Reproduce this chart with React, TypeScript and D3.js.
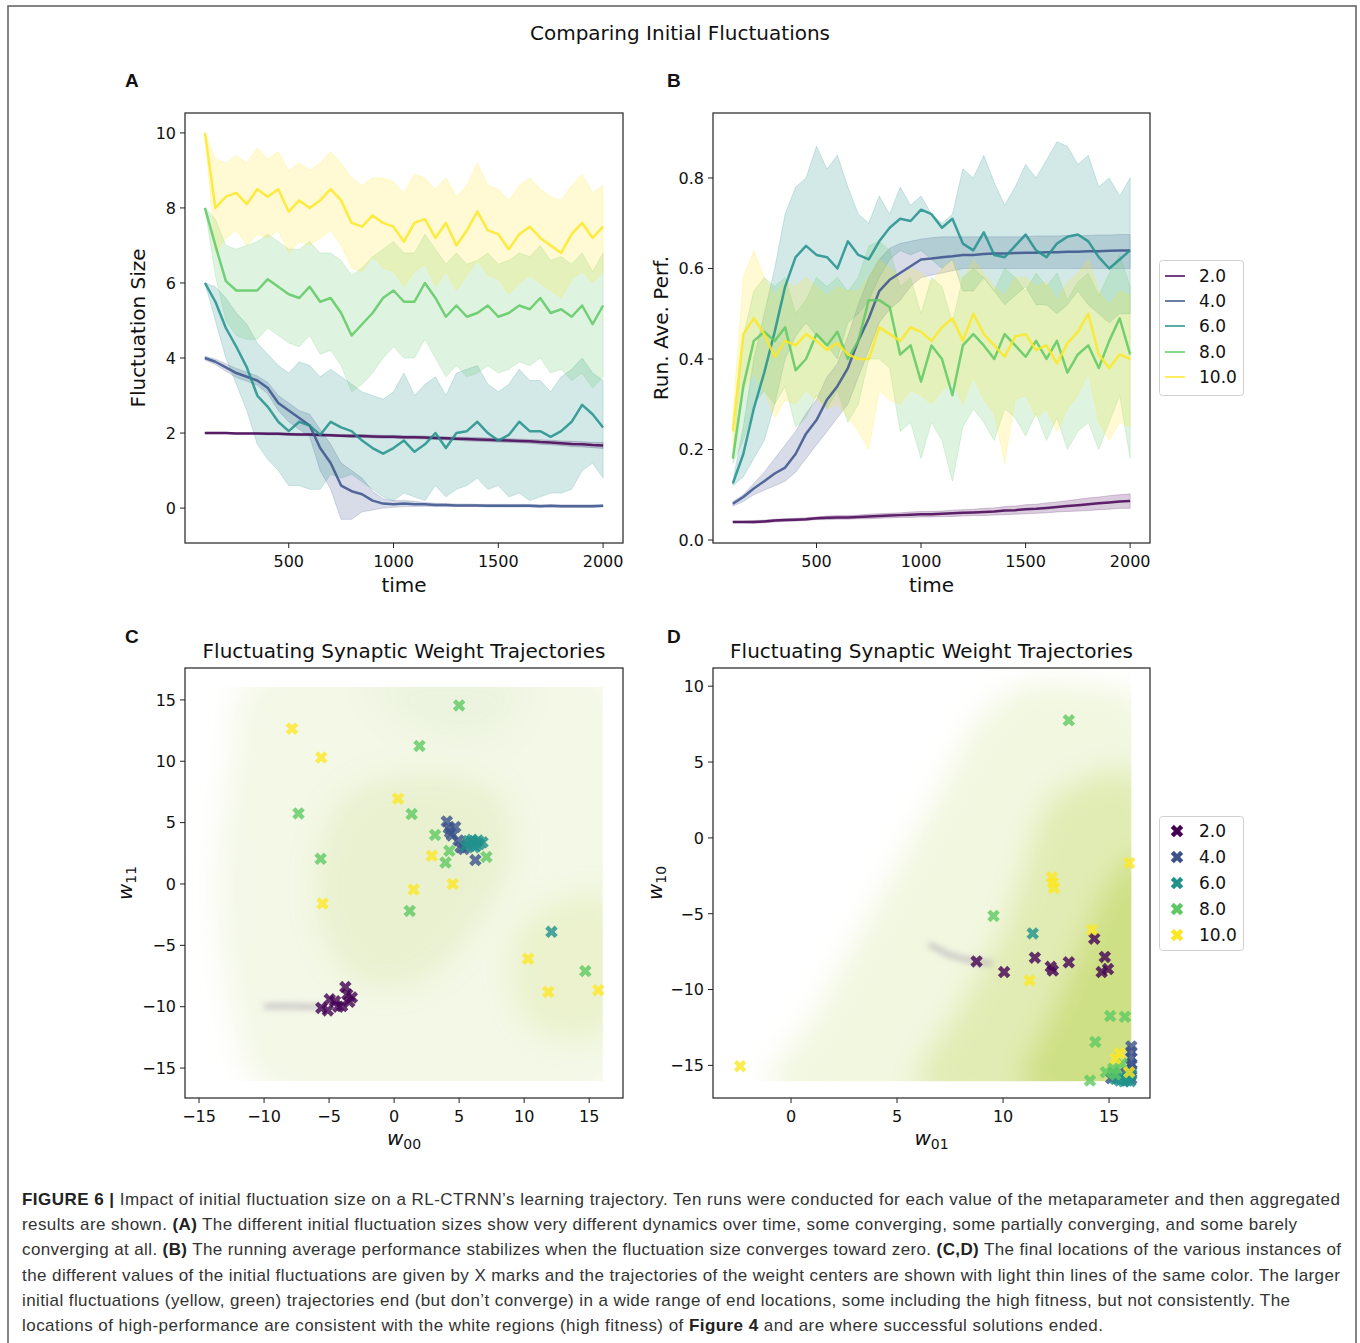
import React from 'react';
import * as d3 from 'd3';

// ---------- shared categories ----------
const TIME = [100,150,200,250,300,350,400,450,500,550,600,650,700,750,800,850,900,950,1000,1050,1100,1150,1200,1250,1300,1350,1400,1450,1500,1550,1600,1650,1700,1750,1800,1850,1900,1950,2000];
const LEVELS = ['2.0','4.0','6.0','8.0','10.0'];
const COLORS = ['#440154','#3b528b','#21918c','#5ec962','#fde725'];

// ---------- Panel A: fluctuation size ----------
const a2m = [2.00,2.00,2.00,1.99,1.99,1.99,1.98,1.98,1.97,1.96,1.96,1.95,1.94,1.93,1.92,1.92,1.91,1.90,1.90,1.89,1.89,1.88,1.87,1.86,1.85,1.84,1.83,1.82,1.81,1.80,1.79,1.78,1.76,1.75,1.73,1.71,1.70,1.68,1.67];
const a2hi = [2.02,2.02,2.02,2.01,2.01,2.01,2.01,2.01,2.00,1.99,1.99,1.98,1.97,1.96,1.96,1.96,1.95,1.94,1.94,1.93,1.93,1.92,1.91,1.90,1.89,1.89,1.88,1.87,1.86,1.85,1.84,1.83,1.82,1.81,1.79,1.78,1.77,1.75,1.75];
const a2lo = [1.98,1.98,1.98,1.97,1.97,1.97,1.95,1.95,1.94,1.93,1.93,1.92,1.91,1.90,1.88,1.88,1.87,1.86,1.86,1.85,1.85,1.84,1.83,1.82,1.81,1.79,1.78,1.77,1.76,1.75,1.74,1.73,1.70,1.69,1.67,1.64,1.63,1.61,1.59];
const a4m = [4.0,3.9,3.75,3.6,3.5,3.4,3.2,2.8,2.6,2.4,2.2,1.6,1.2,0.6,0.45,0.37,0.2,0.12,0.1,0.12,0.1,0.1,0.08,0.08,0.07,0.07,0.07,0.06,0.06,0.06,0.06,0.06,0.05,0.06,0.05,0.05,0.05,0.05,0.06];
const a4hi = [4.05,3.97,3.85,3.72,3.62,3.52,3.35,3.0,2.8,2.6,2.5,2.1,1.7,1.2,1.0,0.8,0.45,0.25,0.2,0.2,0.18,0.15,0.13,0.12,0.11,0.11,0.1,0.1,0.1,0.1,0.1,0.1,0.09,0.09,0.09,0.09,0.09,0.09,0.09];
const a4lo = [3.95,3.83,3.65,3.48,3.38,3.28,3.05,2.6,2.3,2.1,1.9,1.0,0.5,-0.3,-0.3,-0.1,-0.05,0.0,0.02,0.04,0.04,0.05,0.04,0.04,0.04,0.04,0.04,0.03,0.03,0.03,0.03,0.03,0.02,0.03,0.02,0.02,0.02,0.02,0.03];
const a6m = [6.0,5.5,4.8,4.3,3.75,3.0,2.7,2.3,2.05,2.3,2.2,1.95,2.3,2.15,2.05,1.8,1.6,1.45,1.6,1.8,1.5,1.7,2.0,1.6,2.0,2.05,2.3,2.0,1.8,1.95,2.3,2.05,2.05,1.9,2.05,2.3,2.75,2.5,2.15];
const a6hi = [6.0,5.9,5.6,5.2,4.9,4.4,4.1,3.8,3.6,3.9,3.8,3.5,3.7,3.5,3.3,3.1,3.0,2.9,3.1,3.6,3.0,3.3,3.5,3.0,3.6,3.7,3.8,3.3,3.1,3.3,3.7,3.4,3.4,3.1,3.5,3.7,4.0,3.6,3.4];
const a6lo = [6.0,5.0,4.0,3.3,2.6,1.7,1.3,1.0,0.6,0.6,0.5,0.5,0.9,0.8,0.9,0.7,0.5,0.3,0.2,0.4,0.3,0.2,0.6,0.3,0.5,0.6,0.8,0.5,0.6,0.3,0.4,0.2,0.3,0.4,0.4,0.5,1.0,1.2,0.8];
const a8m = [8.0,7.0,6.05,5.8,5.8,5.8,6.1,5.9,5.7,5.6,5.9,5.5,5.6,5.2,4.6,4.9,5.2,5.6,5.8,5.5,5.5,6.0,5.6,5.1,5.4,5.1,5.2,5.4,5.1,5.2,5.4,5.3,5.6,5.2,5.3,5.1,5.4,4.9,5.4];
const a8hi = [8.0,7.7,7.0,6.9,7.0,7.1,7.3,7.1,6.9,6.9,7.1,6.8,6.8,6.6,6.2,6.4,6.7,6.9,7.1,6.8,6.8,7.3,6.9,6.5,6.8,6.5,6.6,6.8,6.5,6.6,6.8,6.7,7.0,6.6,6.7,6.5,6.8,6.3,6.8];
const a8lo = [8.0,6.2,5.0,4.6,4.5,4.5,4.8,4.6,4.4,4.3,4.6,4.1,4.2,3.8,3.1,3.3,3.6,4.0,4.3,4.0,4.0,4.5,4.0,3.5,3.8,3.5,3.6,3.8,3.6,3.7,3.9,3.8,4.0,3.6,3.7,3.4,3.6,3.2,3.5];
const a10m = [10.0,8.0,8.3,8.4,8.1,8.5,8.3,8.5,7.9,8.2,8.0,8.2,8.5,8.2,7.6,7.5,7.8,7.6,7.5,7.1,7.6,7.7,7.2,7.6,7.0,7.4,7.9,7.4,7.3,6.9,7.3,7.5,7.2,7.0,6.8,7.3,7.6,7.2,7.5];
const a10hi = [10.0,9.3,9.2,9.4,9.2,9.6,9.3,9.5,9.0,9.2,9.0,9.2,9.5,9.2,8.8,8.6,8.8,8.8,8.7,8.4,8.9,8.8,8.5,8.8,8.3,8.6,9.2,8.6,8.5,8.2,8.6,8.8,8.5,8.3,8.2,8.6,8.9,8.4,8.6];
const a10lo = [10.0,6.8,7.2,7.4,7.0,7.3,7.2,7.4,6.8,7.1,7.0,7.2,7.4,7.0,6.4,6.3,6.7,6.4,6.3,5.9,6.3,6.5,5.9,6.3,5.8,6.2,6.6,6.2,6.1,5.7,6.0,6.2,6.0,5.8,5.6,6.1,6.3,6.0,6.3];

// ---------- Panel B: running average performance ----------
const b2m = [0.040,0.040,0.040,0.041,0.043,0.044,0.045,0.046,0.048,0.049,0.050,0.050,0.051,0.052,0.053,0.054,0.055,0.056,0.057,0.057,0.058,0.059,0.060,0.061,0.062,0.063,0.065,0.066,0.068,0.069,0.071,0.073,0.075,0.077,0.079,0.081,0.083,0.085,0.086];
const b2hi = [0.042,0.042,0.043,0.044,0.046,0.047,0.048,0.049,0.051,0.053,0.054,0.054,0.055,0.057,0.058,0.059,0.060,0.062,0.063,0.063,0.064,0.066,0.067,0.068,0.070,0.071,0.074,0.075,0.078,0.079,0.082,0.084,0.087,0.090,0.093,0.095,0.098,0.100,0.102];
const b2lo = [0.038,0.038,0.037,0.038,0.040,0.041,0.042,0.043,0.045,0.045,0.046,0.046,0.047,0.047,0.048,0.049,0.050,0.050,0.051,0.051,0.052,0.052,0.053,0.054,0.054,0.055,0.056,0.057,0.058,0.059,0.060,0.062,0.063,0.064,0.065,0.067,0.068,0.070,0.070];
const b4m = [0.08,0.095,0.114,0.13,0.147,0.16,0.19,0.235,0.265,0.31,0.34,0.38,0.44,0.49,0.55,0.575,0.59,0.605,0.62,0.622,0.625,0.627,0.63,0.63,0.632,0.633,0.633,0.634,0.635,0.635,0.636,0.636,0.637,0.637,0.638,0.638,0.639,0.64,0.64];
const b4hi = [0.085,0.10,0.125,0.15,0.18,0.21,0.24,0.28,0.31,0.36,0.39,0.45,0.52,0.58,0.62,0.645,0.655,0.66,0.665,0.668,0.67,0.67,0.67,0.67,0.67,0.67,0.67,0.67,0.67,0.672,0.672,0.672,0.673,0.673,0.673,0.674,0.674,0.675,0.675];
const b4lo = [0.075,0.085,0.10,0.11,0.12,0.13,0.15,0.18,0.21,0.24,0.27,0.30,0.36,0.42,0.48,0.51,0.53,0.56,0.58,0.585,0.59,0.595,0.60,0.60,0.60,0.60,0.60,0.60,0.60,0.60,0.60,0.60,0.60,0.60,0.60,0.60,0.60,0.60,0.60];
const b6m = [0.125,0.19,0.29,0.37,0.46,0.56,0.625,0.65,0.63,0.625,0.60,0.66,0.63,0.62,0.66,0.69,0.71,0.705,0.73,0.72,0.69,0.71,0.655,0.64,0.68,0.63,0.625,0.65,0.675,0.64,0.625,0.655,0.67,0.675,0.66,0.625,0.60,0.62,0.64];
const b6hi = [0.13,0.25,0.40,0.50,0.60,0.72,0.78,0.80,0.87,0.82,0.85,0.78,0.72,0.70,0.76,0.72,0.78,0.74,0.76,0.72,0.70,0.72,0.82,0.80,0.85,0.79,0.74,0.78,0.83,0.80,0.84,0.88,0.87,0.83,0.85,0.78,0.80,0.76,0.80];
const b6lo = [0.12,0.14,0.18,0.22,0.30,0.40,0.45,0.48,0.45,0.43,0.40,0.48,0.50,0.53,0.58,0.62,0.64,0.63,0.64,0.62,0.60,0.62,0.55,0.55,0.58,0.55,0.52,0.54,0.56,0.52,0.52,0.50,0.52,0.55,0.52,0.50,0.48,0.50,0.50];
const b8m = [0.18,0.34,0.44,0.46,0.44,0.47,0.375,0.40,0.455,0.43,0.46,0.40,0.44,0.53,0.53,0.515,0.41,0.43,0.35,0.43,0.40,0.32,0.43,0.455,0.43,0.40,0.455,0.43,0.405,0.44,0.40,0.44,0.37,0.41,0.43,0.38,0.44,0.49,0.41];
const b8hi = [0.19,0.45,0.55,0.58,0.56,0.58,0.50,0.53,0.58,0.56,0.58,0.55,0.58,0.65,0.66,0.64,0.56,0.58,0.50,0.58,0.56,0.48,0.58,0.60,0.58,0.55,0.60,0.58,0.55,0.59,0.56,0.59,0.53,0.57,0.59,0.54,0.59,0.63,0.56];
const b8lo = [0.17,0.22,0.30,0.33,0.30,0.34,0.25,0.27,0.32,0.29,0.33,0.26,0.30,0.40,0.40,0.38,0.24,0.26,0.18,0.26,0.22,0.13,0.25,0.29,0.26,0.22,0.29,0.27,0.23,0.28,0.22,0.27,0.20,0.24,0.26,0.20,0.26,0.32,0.18];
const b10m = [0.24,0.455,0.49,0.455,0.405,0.44,0.43,0.455,0.44,0.42,0.435,0.41,0.40,0.40,0.47,0.455,0.44,0.47,0.46,0.44,0.47,0.49,0.44,0.50,0.455,0.43,0.405,0.45,0.455,0.42,0.43,0.39,0.435,0.46,0.50,0.41,0.38,0.41,0.40];
const b10hi = [0.28,0.58,0.64,0.58,0.54,0.57,0.56,0.58,0.56,0.54,0.56,0.55,0.55,0.58,0.62,0.60,0.58,0.60,0.59,0.57,0.60,0.62,0.57,0.62,0.59,0.56,0.54,0.58,0.58,0.56,0.57,0.53,0.57,0.59,0.62,0.55,0.52,0.55,0.54];
const b10lo = [0.20,0.33,0.37,0.33,0.27,0.31,0.30,0.33,0.31,0.29,0.30,0.27,0.24,0.20,0.33,0.31,0.30,0.33,0.32,0.30,0.33,0.35,0.30,0.36,0.31,0.28,0.17,0.31,0.32,0.27,0.29,0.24,0.29,0.32,0.37,0.26,0.22,0.26,0.25];

// ---------- Panel C: final (w00, w11) ----------
const cX2 = [[-5.6,-10.1],[-5.1,-10.3],[-4.55,-9.55],[-4.0,-9.95],[-3.75,-8.4],[-3.25,-9.25],[-4.95,-9.4],[-3.6,-9.0],[-4.3,-10.0],[-3.45,-9.6]];
const cX4 = [[4.05,5.1],[4.2,4.55],[4.45,3.95],[4.95,3.55],[5.35,2.85],[6.25,1.95],[4.7,4.65],[5.6,3.2],[4.3,4.2],[5.1,3.0]];
const cX6 = [[12.1,-3.9],[5.9,3.4],[6.45,3.55],[6.55,3.25],[5.5,3.1],[6.15,3.0],[6.8,3.4],[6.0,3.6],[6.3,3.1],[5.7,3.5]];
const cX8 = [[5.0,14.55],[1.95,11.25],[-7.35,5.75],[-5.65,2.05],[1.35,5.7],[1.2,-2.2],[3.15,4.0],[3.95,1.75],[4.25,2.7],[7.1,2.2],[14.7,-7.1]];
const cX10 = [[-7.85,12.65],[-5.6,10.3],[0.3,6.95],[-5.5,-1.6],[1.5,-0.45],[4.5,0.0],[2.9,2.3],[10.3,-6.1],[11.85,-8.8],[15.7,-8.65]];

// ---------- Panel D: final (w01, w10) ----------
const dX2 = [[8.75,-8.15],[10.05,-8.85],[11.5,-7.9],[12.25,-8.5],[12.35,-8.75],[13.1,-8.2],[14.3,-6.65],[14.8,-7.85],[14.65,-8.85],[14.95,-8.65]];
const dX4 = [[16.05,-13.75],[16.05,-14.1],[16.05,-14.5],[16.05,-14.9],[16.05,-15.3],[16.0,-15.7],[15.1,-15.85],[16.05,-15.9],[15.8,-15.5],[16.05,-15.0]];
const dX6 = [[11.4,-6.3],[15.5,-16.0],[15.7,-16.05],[16.0,-16.05],[15.3,-15.9],[15.9,-15.8],[15.6,-15.7],[16.05,-15.6],[15.2,-15.5],[15.85,-16.0]];
const dX8 = [[13.1,7.75],[9.55,-5.15],[15.05,-11.75],[15.75,-11.8],[14.35,-13.45],[14.1,-16.0],[14.85,-15.45],[15.3,-15.6],[15.6,-14.9],[15.2,-15.2]];
const dX10 = [[-2.4,-15.05],[15.95,-1.65],[12.3,-2.6],[12.4,-3.3],[14.2,-6.05],[11.25,-9.4],[15.5,-14.2],[15.3,-14.55],[15.95,-15.45],[12.35,-2.95]];

// ---------- trajectory density regions (read from the haze) ----------
const hazeC = [
  { color: '#dbe8b0', op: 0.30, pts: [[-11,16.5],[16.5,16.5],[16.5,-16.5],[-10,-16.5],[-12.5,-10],[-13.5,0],[-12.5,10]] },
  { color: '#c2db82', op: 0.22, pts: [[-4,7],[2,9],[8,7.5],[9,2],[6,-4],[2,-8],[-3,-8],[-6,-2]] },
  { color: '#b0d8a8', op: 0.12, pts: [[-2,16.5],[10,16.5],[8,12],[2,12]] },
  { color: '#d3e382', op: 0.26, pts: [[10,-3],[16.5,-1],[16.5,-12],[11,-12],[9,-8]] },
];
const streakC = [[-10,-10],[-8.5,-9.9],[-7,-10],[-5.5,-10]];
const hazeD = [
  { color: '#dde9ae', op: 0.38, pts: [[-1,-16.5],[1,-12],[3,-7],[5,-2],[7,3],[9,8],[11,10],[14,10],[16.5,9],[16.5,-16.5]] },
  { color: '#cbde78', op: 0.42, pts: [[6,-16.5],[8,-11],[10,-6],[11,-2],[12,2],[14,4],[16.5,4],[16.5,-16.5]] },
  { color: '#bcd458', op: 0.52, pts: [[11,-16.5],[12.5,-11],[14,-6],[15,-3],[16.5,-1],[16.5,-16.5]] },
];
const streakD = [[6.5,-7.0],[7.5,-7.8],[8.5,-8.1],[9.5,-8.3]];

// ---------- ticks ----------
const A_YTICKS = [0,2,4,6,8,10];
const B_YTICKS = [0,0.2,0.4,0.6,0.8];
const T_TICKS = [500,1000,1500,2000];
const C_TICKS = [-15,-10,-5,0,5,10,15];
const D_XTICKS = [0,5,10,15];
const D_YTICKS = [-15,-10,-5,0,5,10];

const CAPTION: [string, boolean][][] = [
  [['FIGURE 6 | ', true], ['Impact of initial fluctuation size on a RL-CTRNN\u2019s learning trajectory. Ten runs were conducted for each value of the metaparameter and then aggregated', false]],
  [['results are shown. ', false], ['(A)', true], [' The different initial fluctuation sizes show very different dynamics over time, some converging, some partially converging, and some barely', false]],
  [['converging at all. ', false], ['(B)', true], [' The running average performance stabilizes when the fluctuation size converges toward zero. ', false], ['(C,D)', true], [' The final locations of the various instances of', false]],
  [['the different values of the initial fluctuations are given by X marks and the trajectories of the weight centers are shown with light thin lines of the same color. The larger', false]],
  [['initial fluctuations (yellow, green) trajectories end (but don\u2019t converge) in a wide range of end locations, some including the high fitness, but not consistently. The', false]],
  [['locations of high-performance are consistent with the white regions (high fitness) of ', false], ['Figure 4', true], [' and are where successful solutions ended.', false]],
];
const CAPTION_WIDTHS = [1318, 1275, 1319, 1318, 1268, 1081];

const FONT = '"DejaVu Sans", sans-serif';

function xMarkPath(cx: number, cy: number, s: number) {
  const u = [[-0.25,-0.5],[0,-0.25],[0.25,-0.5],[0.5,-0.25],[0.25,0],[0.5,0.25],[0.25,0.5],[0,0.25],[-0.25,0.5],[-0.5,0.25],[-0.25,0],[-0.5,-0.25]];
  return 'M' + u.map(([a, b]) => `${(cx + a * s).toFixed(2)},${(cy + b * s).toFixed(2)}`).join('L') + 'Z';
}

type Scale = d3.ScaleLinear<number, number>;

function Frame({ x, y }: { x: Scale; y: Scale }) {
  const [x0, x1] = x.range();
  const [y0, y1] = y.range();
  return <rect x={x0} y={y1} width={x1 - x0} height={y0 - y1} fill="none" stroke="#222" strokeWidth={1.2} />;
}

function XAxis({ x, y, ticks, fmt }: { x: Scale; y: Scale; ticks: number[]; fmt: (v: number) => string }) {
  const y0 = y.range()[0];
  return (
    <g>
      {ticks.map(t => (
        <g key={t}>
          <line x1={x(t)} x2={x(t)} y1={y0} y2={y0 + 5} stroke="#222" strokeWidth={1} />
          <text x={x(t)} y={y0 + 24} textAnchor="middle" fontSize={16} fontFamily={FONT} fill="#111">{fmt(t)}</text>
        </g>
      ))}
    </g>
  );
}

function YAxis({ x, y, ticks, fmt }: { x: Scale; y: Scale; ticks: number[]; fmt: (v: number) => string }) {
  const x0 = x.range()[0];
  return (
    <g>
      {ticks.map(t => (
        <g key={t}>
          <line x1={x0 - 5} x2={x0} y1={y(t)} y2={y(t)} stroke="#222" strokeWidth={1} />
          <text x={x0 - 9} y={y(t) + 5.8} textAnchor="end" fontSize={16} fontFamily={FONT} fill="#111">{fmt(t)}</text>
        </g>
      ))}
    </g>
  );
}

function LinePanel({ x, y, series }: { x: Scale; y: Scale; series: { m: number[]; hi: number[]; lo: number[]; color: string }[] }) {
  const line = d3.line<number>().x((_, i) => x(TIME[i])).y(d => y(d));
  return (
    <g>
      {series.map((s, k) => {
        const band = d3.area<number>().x((_, i) => x(TIME[i])).y0((_, i) => y(s.lo[i])).y1(d => y(d));
        return <path key={'b' + k} d={band(s.hi) || ''} fill={s.color} fillOpacity={0.2} stroke={s.color} strokeOpacity={0.25} strokeWidth={0.8} />;
      })}
      {series.map((s, k) => (
        <path key={'l' + k} d={line(s.m) || ''} fill="none" stroke={s.color} strokeOpacity={0.85} strokeWidth={2.5} strokeLinejoin="round" />
      ))}
    </g>
  );
}

function ScatterPanel({ id, x, y, haze, streak, groups }: { id: string; x: Scale; y: Scale; haze: { color: string; op: number; pts: number[][] }[]; streak: number[][]; groups: number[][][] }) {
  const poly = d3.line<number[]>().x(d => x(d[0])).y(d => y(d[1])).curve(d3.curveCatmullRomClosed.alpha(0.5));
  const sline = d3.line<number[]>().x(d => x(d[0])).y(d => y(d[1])).curve(d3.curveBasis);
  const [x0, x1] = x.range();
  const cl = x(16.05), ct = y(16.05), cb = y(-16.05);
  return (
    <g>
      <defs>
        <clipPath id={'clip' + id}>
          <rect x={x0} y={ct} width={cl - x0} height={cb - ct} />
        </clipPath>
        <filter id={'blur' + id} filterUnits="userSpaceOnUse" x={x0 - 50} y={y.range()[1] - 50} width={x1 - x0 + 100} height={y.range()[0] - y.range()[1] + 100}>
          <feGaussianBlur stdDeviation={14} />
        </filter>
        <filter id={'blurS' + id} filterUnits="userSpaceOnUse" x={x0 - 50} y={y.range()[1] - 50} width={x1 - x0 + 100} height={y.range()[0] - y.range()[1] + 100}>
          <feGaussianBlur stdDeviation={3} />
        </filter>
      </defs>
      <g clipPath={`url(#clip${id})`}>
        <g filter={`url(#blur${id})`}>
          {haze.map((h, i) => <path key={i} d={poly(h.pts) || ''} fill={h.color} fillOpacity={h.op} />)}
        </g>
        <path d={sline(streak) || ''} fill="none" stroke="#8a7c9a" strokeOpacity={0.45} strokeWidth={5} filter={`url(#blurS${id})`} />
      </g>
      {groups.map((g, gi) => (
        <g key={gi}>
          {g.map((p, pi) => <path key={pi} d={xMarkPath(x(p[0]), y(p[1]), 12.5)} fill={COLORS[gi]} fillOpacity={0.8} />)}
        </g>
      ))}
    </g>
  );
}

export default function App() {
  const xA = d3.scaleLinear().domain([5, 2095]).range([185, 623]);
  const yA = d3.scaleLinear().domain([-0.93, 10.53]).range([543, 113]);
  const xB = d3.scaleLinear().domain([5, 2095]).range([713, 1150]);
  const yB = d3.scaleLinear().domain([-0.0066, 0.9436]).range([543, 113]);
  const xC = d3.scaleLinear().domain([-16.08, 17.6]).range([185, 623]);
  const yC = d3.scaleLinear().domain([-17.44, 17.6]).range([1098, 668]);
  const xD = d3.scaleLinear().domain([-3.68, 16.93]).range([713, 1150]);
  const yD = d3.scaleLinear().domain([-17.15, 11.2]).range([1098, 668]);

  const fInt = d3.format('d');
  const f1 = d3.format('.1f');

  const seriesA = [
    { m: a2m, hi: a2hi, lo: a2lo, color: COLORS[0] },
    { m: a4m, hi: a4hi, lo: a4lo, color: COLORS[1] },
    { m: a6m, hi: a6hi, lo: a6lo, color: COLORS[2] },
    { m: a8m, hi: a8hi, lo: a8lo, color: COLORS[3] },
    { m: a10m, hi: a10hi, lo: a10lo, color: COLORS[4] },
  ];
  const seriesB = [
    { m: b2m, hi: b2hi, lo: b2lo, color: COLORS[0] },
    { m: b4m, hi: b4hi, lo: b4lo, color: COLORS[1] },
    { m: b6m, hi: b6hi, lo: b6lo, color: COLORS[2] },
    { m: b8m, hi: b8hi, lo: b8lo, color: COLORS[3] },
    { m: b10m, hi: b10hi, lo: b10lo, color: COLORS[4] },
  ];

  const legendRowsB = [276, 301, 326, 352, 377];
  const legendRowsD = [831, 857, 883, 909, 935];

  return (
    <svg width={1360} height={1343} viewBox="0 0 1360 1343" style={{ position: 'absolute', left: 0, top: 0, background: '#fff' }}>
      <rect x={0} y={0} width={1360} height={1343} fill="#fff" />
      <rect x={8} y={6} width={1348} height={1400} fill="none" stroke="#666" strokeWidth={1.6} />

      <text x={680} y={40} textAnchor="middle" fontSize={20} fontFamily={FONT} fill="#111">Comparing Initial Fluctuations</text>

      {[['A', 125, 87], ['B', 667, 87], ['C', 125, 643], ['D', 667, 643]].map(([l, px, py]) => (
        <text key={l as string} x={px as number} y={py as number} fontSize={19} fontWeight="bold" fontFamily='"Liberation Sans", Arial, sans-serif' fill="#111">{l}</text>
      ))}

      {/* Panel A */}
      <LinePanel x={xA} y={yA} series={seriesA} />
      <Frame x={xA} y={yA} />
      <XAxis x={xA} y={yA} ticks={T_TICKS} fmt={fInt} />
      <YAxis x={xA} y={yA} ticks={A_YTICKS} fmt={fInt} />
      <text x={404} y={592} textAnchor="middle" fontSize={20} fontFamily={FONT} fill="#111">time</text>
      <text transform="translate(145,328) rotate(-90)" textAnchor="middle" fontSize={20} fontFamily={FONT} fill="#111">Fluctuation Size</text>

      {/* Panel B */}
      <LinePanel x={xB} y={yB} series={seriesB} />
      <Frame x={xB} y={yB} />
      <XAxis x={xB} y={yB} ticks={T_TICKS} fmt={fInt} />
      <YAxis x={xB} y={yB} ticks={B_YTICKS} fmt={f1} />
      <text x={931.5} y={592} textAnchor="middle" fontSize={20} fontFamily={FONT} fill="#111">time</text>
      <text transform="translate(668,328) rotate(-90)" textAnchor="middle" fontSize={20} fontFamily={FONT} fill="#111">Run. Ave. Perf.</text>
      <rect x={1159.5} y={260.5} width={84} height={135} rx={3} fill="#fff" fillOpacity={0.8} stroke="#d0d0d0" strokeWidth={1} />
      {LEVELS.map((lv, i) => (
        <g key={lv}>
          <line x1={1165} x2={1185} y1={legendRowsB[i]} y2={legendRowsB[i]} stroke={COLORS[i]} strokeOpacity={0.75} strokeWidth={2} />
          <text x={1199} y={legendRowsB[i] + 6} fontSize={17} fontFamily={FONT} fill="#111">{lv}</text>
        </g>
      ))}

      {/* Panel C */}
      <text x={404} y={658} textAnchor="middle" fontSize={20} fontFamily={FONT} fill="#111">Fluctuating Synaptic Weight Trajectories</text>
      <ScatterPanel id="C" x={xC} y={yC} haze={hazeC} streak={streakC} groups={[cX2, cX4, cX6, cX8, cX10]} />
      <Frame x={xC} y={yC} />
      <XAxis x={xC} y={yC} ticks={C_TICKS} fmt={fInt} />
      <YAxis x={xC} y={yC} ticks={C_TICKS} fmt={fInt} />
      <text x={404} y={1145} textAnchor="middle" fontSize={20} fontFamily={FONT} fill="#111"><tspan fontStyle="italic">w</tspan><tspan fontSize={14} dy={4}>00</tspan></text>
      <text transform="translate(132,883) rotate(-90)" textAnchor="middle" fontSize={20} fontFamily={FONT} fill="#111"><tspan fontStyle="italic">w</tspan><tspan fontSize={14} dy={4}>11</tspan></text>

      {/* Panel D */}
      <text x={931.5} y={658} textAnchor="middle" fontSize={20} fontFamily={FONT} fill="#111">Fluctuating Synaptic Weight Trajectories</text>
      <ScatterPanel id="D" x={xD} y={yD} haze={hazeD} streak={streakD} groups={[dX2, dX4, dX6, dX8, dX10]} />
      <Frame x={xD} y={yD} />
      <XAxis x={xD} y={yD} ticks={D_XTICKS} fmt={fInt} />
      <YAxis x={xD} y={yD} ticks={D_YTICKS} fmt={fInt} />
      <text x={931.5} y={1145} textAnchor="middle" fontSize={20} fontFamily={FONT} fill="#111"><tspan fontStyle="italic">w</tspan><tspan fontSize={14} dy={4}>01</tspan></text>
      <text transform="translate(662,883) rotate(-90)" textAnchor="middle" fontSize={20} fontFamily={FONT} fill="#111"><tspan fontStyle="italic">w</tspan><tspan fontSize={14} dy={4}>10</tspan></text>
      <rect x={1159.5} y={816.5} width={84} height={134} rx={3} fill="#fff" fillOpacity={0.8} stroke="#d0d0d0" strokeWidth={1} />
      {LEVELS.map((lv, i) => (
        <g key={lv}>
          <path d={xMarkPath(1177, legendRowsD[i], 12.5)} fill={COLORS[i]} />
          <text x={1199} y={legendRowsD[i] + 6} fontSize={17} fontFamily={FONT} fill="#111">{lv}</text>
        </g>
      ))}

      {/* caption */}
      {CAPTION.map((segs, i) => (
        <text key={i} x={22} y={1205 + i * 25.2} fontSize={17} fontFamily='"Liberation Sans", Arial, sans-serif' fill="#333" textLength={CAPTION_WIDTHS[i]} lengthAdjust="spacing">
          {segs.map(([s, b], j) => <tspan key={j} fontWeight={b ? 'bold' : 'normal'} fill={b ? '#222' : '#333'}>{s}</tspan>)}
        </text>
      ))}
    </svg>
  );
}
